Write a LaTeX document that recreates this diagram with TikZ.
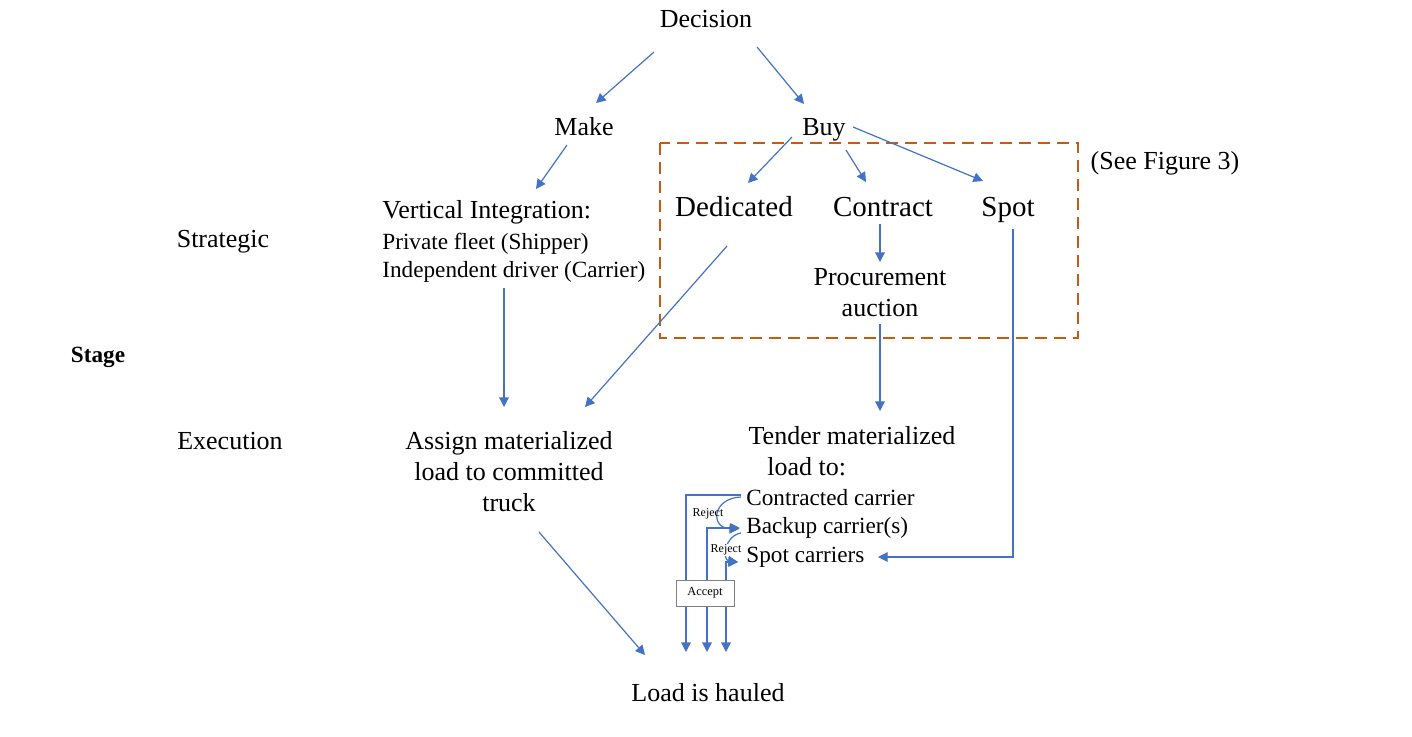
\documentclass[tikz,border=0pt]{standalone}
\usepackage{fontspec}
\setmainfont{Liberation Serif}
\usetikzlibrary{arrows.meta}
\definecolor{lineblue}{RGB}{68,114,196}
\definecolor{boxorange}{RGB}{197,90,17}
\tikzset{
  arr/.style={draw=lineblue, line width=0.6pt, -{Triangle[width=4.8pt,length=4.8pt]}},
  txt/.style={inner sep=0pt, text height=0.9em, text depth=0pt},
  big/.style={txt, font=\fontsize{13}{15}\selectfont},
  bigger/.style={txt, font=\fontsize{14.5}{17}\selectfont},
  small/.style={txt, font=\fontsize{11.6}{14}\selectfont},
  tiny/.style={inner sep=0.5pt, font=\fontsize{6}{7}\selectfont},
  acceptbox/.style={draw=gray, fill=white, line width=0.5pt, minimum width=29pt, minimum height=13pt, inner sep=0pt, font=\fontsize{6.2}{7}\selectfont},
  dashbox/.style={draw=boxorange, line width=1.2pt, dash pattern=on 6pt off 3.5pt}
}
\begin{document}
\begin{tikzpicture}[x=0.5pt, y=-0.5pt]
\useasboundingbox (0,0) rectangle (1412,736);

% labels
\node[big] (decision) at (706,18) {Decision};
\node[big] (make) at (584,126) {Make};
\node[big] (buy) at (824,126) {Buy};
\node[big, anchor=west] (vi1) at (382,209) {Vertical Integration:};
\node[small, anchor=west] (vi2) at (382,240) {Private fleet (Shipper)};
\node[small, anchor=west] (vi3) at (382,268) {Independent driver (Carrier)};
\node[bigger] (dedicated) at (734,207) {Dedicated};
\node[bigger] (contract) at (883,207) {Contract};
\node[bigger] (spot) at (1008,207) {Spot};
\node[big] (proc1) at (880,276) {Procurement};
\node[big] (proc2) at (880,307) {auction};
\node[big] (seefig) at (1165,160) {(See Figure 3)};
\node[big] (strategic) at (223,238) {Strategic};
\node[small, font=\fontsize{11.6}{14}\selectfont\bfseries] (stage) at (98,353) {Stage};
\node[big] (execution) at (230,440) {Execution};
\node[big] (assign1) at (509,440) {Assign materialized};
\node[big] (assign2) at (509,471) {load to committed};
\node[big] (assign3) at (509,502) {truck};
\node[big] (tender1) at (852,435) {Tender materialized};
\node[big, anchor=west] (tender2) at (767,466) {load to:};
\node[small, anchor=west] (contracted) at (746,496) {Contracted carrier};
\node[small, anchor=west] (backup) at (746,524) {Backup carrier(s)};
\node[small, anchor=west] (spotc) at (746,553) {Spot carriers};
\node[big] (load) at (708,692) {Load is hauled};

% dashed box
\draw[dashbox] (660,143) rectangle (1078,338);

% arrows
\draw[arr] ([shift={(-52,34)}]decision.center) -- ([shift={(12,-23)}]make.center);
\draw[arr] ([shift={(51,29)}]decision.center) -- ([shift={(-20,-22)}]buy.center);
\draw[arr] ([shift={(-17,19)}]make.center) -- ([shift={(154,-20)}]vi1.west);
\draw[arr] ([shift={(-32,11)}]buy.center) -- ([shift={(14,-24)}]dedicated.center);
\draw[arr] ([shift={(22,24)}]buy.center) -- ([shift={(-17,-25)}]contract.center);
\draw[arr] ([shift={(29,1)}]buy.center) -- ([shift={(-25,-26)}]spot.center);
\draw[arr] ([shift={(-3,17)}]contract.center) -- ([shift={(0,-14)}]proc1.center);
\draw[arr] ([shift={(122,20)}]vi3.west) -- ([shift={(-5,-33)}]assign1.center);
\draw[arr] ([shift={(-7,39)}]dedicated.center) -- ([shift={(76,-33)}]assign1.center);
\draw[arr] ([shift={(0,17)}]proc2.center) -- ([shift={(28,-24)}]tender1.center);
\draw[arr] ([shift={(5,22)}]spot.center) |- ([shift={(132,4)}]spotc.west);
\draw[arr] ([shift={(30,30)}]assign3.center) -- ([shift={(-63,-37)}]load.center);

% feedback lines
\node[acceptbox] (accept) at (705,593) {Accept};
\draw[arr] ([shift={(-5,-1)}]contracted.west) -| ([shift={(-22,-40)}]load.center);
\draw[arr] ([shift={(2,-13)}]accept.center) |- ([shift={(-6,4)}]backup.west);
\draw[arr] ([shift={(21,-13)}]accept.center) |- ([shift={(-8,9)}]spotc.west);
\draw[arr] ([shift={(2,13)}]accept.center) -- ([shift={(-1,-40)}]load.center);
\draw[arr] ([shift={(21,13)}]accept.center) -- ([shift={(18,-40)}]load.center);
\node[acceptbox] at (accept.center) {Accept};

% reject curves
\draw[arr] ([shift={(-5,1)}]contracted.west) .. controls (712,498) and (710,528) .. ([shift={(-7,5)}]backup.west);
\draw[arr] ([shift={(-5,9)}]backup.west) .. controls (724,536) and (722,560) .. ([shift={(-8,9)}]spotc.west);
\node[tiny] (reject1) at (708,514) {Reject};
\node[tiny, fill=white] (reject2) at (726,550) {Reject};
\end{tikzpicture}
\end{document}
